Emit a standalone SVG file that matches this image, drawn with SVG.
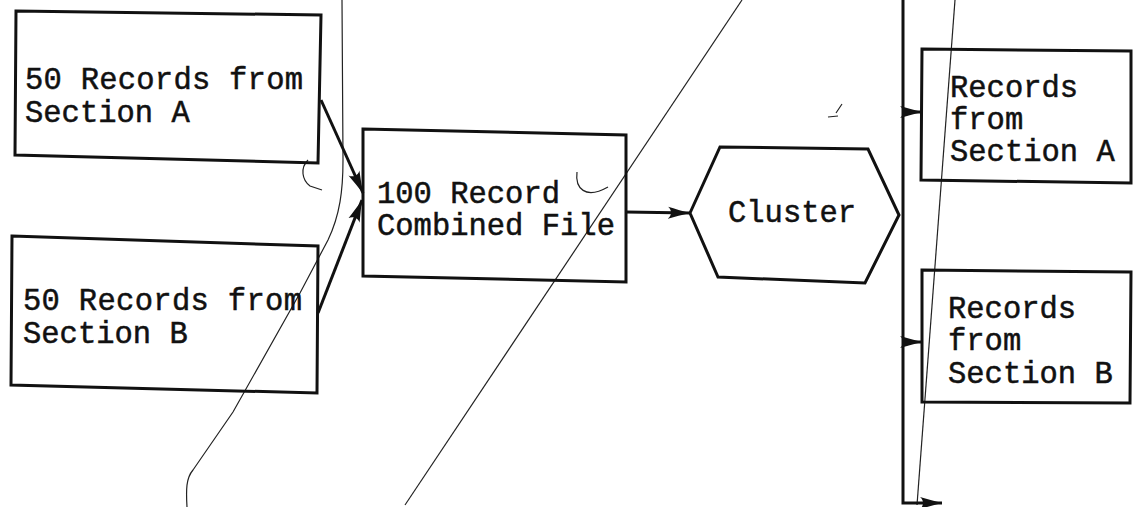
<svg xmlns="http://www.w3.org/2000/svg" width="1133" height="507" viewBox="0 0 1133 507">
  <style>
    .box { fill: none; stroke: #111; stroke-width: 3; stroke-linejoin: miter; }
    .lbl { font-family: "Liberation Mono", "DejaVu Sans Mono", monospace; font-size: 30.5px; fill: #111; stroke: #111; stroke-width: 0.5; }
    .conn { fill: none; stroke: #111; stroke-width: 3; }
    .stray { fill: none; stroke: #222; stroke-width: 1.2; }
  </style>
  <defs>
    <marker id="arr" markerWidth="24" markerHeight="14" refX="22" refY="7" orient="auto" markerUnits="userSpaceOnUse">
      <path d="M0,1 C7,3 14,5 22,7 C14,9 7,11 0,13 C4,10 4,4 0,1 Z" fill="#111"/>
    </marker>
  </defs>
  <rect width="1133" height="507" fill="#fff"/>

  <g id="stray-marks">
    <path class="stray" d="M342,0 L343,160 C343,190 340,215 328,240 L300,293 L233,412 L193,470 C186,478 186,490 187,507"/>
    <path class="stray" d="M742,0 L405,505"/>
    <path class="stray" d="M955,0 L917,505"/>
    <path class="stray" stroke-width="1.6" d="M308,160 C300,168 302,180 310,186 L322,190"/>
    <path class="stray" stroke-width="1.6" d="M577,172 C575,188 585,200 608,187"/>
    <path class="stray" stroke-width="1.6" d="M836,113 L842,104 M828,117 L838,116"/>
  </g>

  <g id="node-a">
    <polygon class="box" points="16,11 321,15 318,163 15,155"/>
    <text class="lbl" x="25" y="89" textLength="278" lengthAdjust="spacing">50 Records from</text>
    <text class="lbl" x="25" y="122">Section A</text>
  </g>

  <g id="node-b">
    <polygon class="box" points="12,236 318,246 317,393 11,385"/>
    <text class="lbl" x="23" y="310" textLength="279" lengthAdjust="spacing">50 Records from</text>
    <text class="lbl" x="23" y="343">Section B</text>
  </g>

  <g id="node-combined">
    <polygon class="box" points="363,129 626,135 626,282 363,276"/>
    <text class="lbl" x="377" y="203">100 Record</text>
    <text class="lbl" x="377" y="235">Combined File</text>
  </g>

  <g id="node-cluster">
    <polygon class="box" points="690,213 720,147 868,149 899,215 865,283 718,277"/>
    <text class="lbl" x="728" y="222">Cluster</text>
  </g>

  <g id="node-out-a">
    <polygon class="box" points="922,49 1131,51 1131,183 921,180"/>
    <text class="lbl" x="950" y="97">Records</text>
    <text class="lbl" x="950" y="129">from</text>
    <text class="lbl" x="950" y="161">Section A</text>
  </g>

  <g id="node-out-b">
    <polygon class="box" points="922,270 1131,272 1130,403 922,402"/>
    <text class="lbl" x="948" y="318">Records</text>
    <text class="lbl" x="948" y="350">from</text>
    <text class="lbl" x="948" y="383">Section B</text>
  </g>

  <g id="connectors">
    <path class="conn" d="M321,100 L363,193" marker-end="url(#arr)"/>
    <path class="conn" d="M318,313 L362,200" marker-end="url(#arr)"/>
    <path class="conn" d="M626,212 L690,213" marker-end="url(#arr)"/>
    <path class="conn" stroke-width="3.5" d="M903,0 L903,503 L942,503" marker-end="url(#arr)"/>
    <path class="conn" d="M903,112 L922,112" marker-end="url(#arr)"/>
    <path class="conn" d="M903,342 L922,342" marker-end="url(#arr)"/>
  </g>
</svg>
